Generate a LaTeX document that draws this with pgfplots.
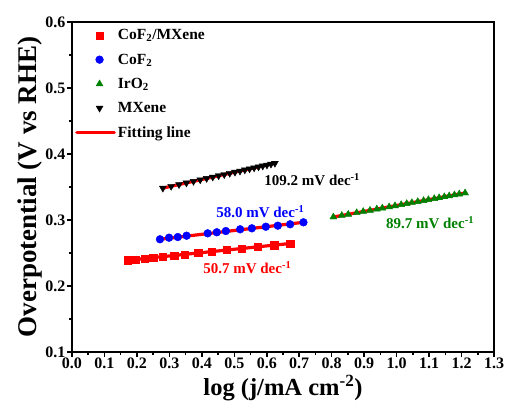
\documentclass[border=0pt]{standalone}
\usepackage{fontspec}
\setmainfont{Liberation Serif}
\usepackage{pgfplots}
\pgfplotsset{compat=1.18}

\definecolor{cred}{RGB}{255,0,0}
\definecolor{cblue}{RGB}{0,0,255}
\definecolor{cgreen}{RGB}{0,128,0}

\pgfplotsset{fitlegend/.style={legend image code/.code={\draw[##1] (-0.5cm,0cm) -- (0.82cm,0cm);}}}

\begin{document}
\begin{tikzpicture}
\begin{axis}[
    scale only axis,
    width=422pt, height=330pt,
    xmin=0, xmax=1.3, ymin=0.1, ymax=0.6,
    xtick={0,0.1,...,1.3}, ytick={0.1,0.2,...,0.6},
    minor tick num=1,
    xtick pos=bottom, ytick pos=left,
    tick align=outside,
    major tick length=5pt, minor tick length=3pt,
    axis line style={line width=1.8pt},
    every tick/.style={line width=1.5pt, black},
    /pgf/number format/assume math mode=true,
    /pgf/number format/.cd, fixed, fixed zerofill, precision=1, /pgfplots/.cd,
    tick label style={font=\bfseries\fontsize{16}{16}\selectfont},
    xticklabel style={inner sep=1pt},
    yticklabel style={inner sep=1.5pt},
    xlabel={log (j/mA cm\textsuperscript{-2})},
    ylabel={Overpotential (V vs RHE)},
    xlabel style={font=\bfseries\fontsize{24.5}{24.5}\selectfont, at={(axis description cs:0.5,-0.11)}, anchor=center},
    ylabel style={font=\bfseries\fontsize{27}{27}\selectfont, at={(axis description cs:-0.1,0.5)}, anchor=center},
    legend style={draw=none, fill=none, at={(axis description cs:0.0,0.99)}, anchor=north west,
        font=\bfseries\fontsize{15.5}{15.5}\selectfont, row sep=8.5pt},
    legend cell align=left,
    clip=false,
]
% CoF2/MXene
\addplot[only marks, mark=square*, mark size=3.6pt, color=cred] coordinates {
(0.172,0.2390) (0.196,0.2402) (0.223,0.2416) (0.250,0.2430) (0.279,0.2444)
(0.315,0.2463) (0.348,0.2479) (0.389,0.2500) (0.430,0.2521) (0.477,0.2545)
(0.523,0.2568) (0.572,0.2593) (0.623,0.2619) (0.672,0.2644)};
\addlegendentry{CoF\textsubscript{2}/MXene}
% CoF2
\addplot[only marks, mark=*, mark size=3.9pt, color=cblue] coordinates {
(0.271,0.2708) (0.299,0.2732) (0.326,0.2742) (0.353,0.2762) (0.418,0.2798)
(0.446,0.2814) (0.474,0.2833) (0.518,0.2859) (0.554,0.2874) (0.597,0.2898)
(0.634,0.2914) (0.672,0.2935) (0.713,0.2965)};
\addlegendentry{CoF\textsubscript{2}}
% IrO2
\addplot[only marks, mark=triangle*, mark size=4pt, color=cgreen] coordinates {
(0.805,0.3045) (0.831,0.3068) (0.851,0.3086) (0.877,0.3110) (0.897,0.3128)
(0.918,0.3146) (0.939,0.3165) (0.956,0.3180) (0.977,0.3199) (0.995,0.3215)
(1.014,0.3232) (1.031,0.3248) (1.047,0.3262) (1.065,0.3278) (1.083,0.3294)
(1.098,0.3308) (1.116,0.3324) (1.131,0.3337) (1.147,0.3352) (1.162,0.3365)
(1.178,0.3380) (1.193,0.3393) (1.211,0.3409)};
\addlegendentry{IrO\textsubscript{2}}
% MXene
\addplot[only marks, mark=triangle*, mark size=4pt, mark options={rotate=180}, color=black] coordinates {
(0.2799,0.3483) (0.3055,0.3511) (0.3297,0.3537) (0.3525,0.3562) (0.3743,0.3586)
(0.3950,0.3609) (0.4148,0.3630) (0.4337,0.3651) (0.4518,0.3671) (0.4691,0.3689)
(0.4859,0.3708) (0.5020,0.3725) (0.5175,0.3742) (0.5325,0.3759) (0.5470,0.3775)
(0.5610,0.3790) (0.5746,0.3805) (0.5877,0.3819) (0.6005,0.3833) (0.6129,0.3847)
(0.6250,0.3860)};
\addlegendentry{MXene}
% fitting lines
\addplot[cred, line width=3.2pt, line cap=round, no marks, fitlegend]
    coordinates {(0.172,0.2390) (0.672,0.2644)};
\addlegendentry{Fitting line}
\addplot[cred, line width=3.2pt, no marks, forget plot] coordinates {(0.271,0.2708) (0.713,0.2965)};
\addplot[cred, line width=3.2pt, no marks, forget plot] coordinates {(0.805,0.3045) (1.211,0.3409)};
\addplot[cred, line width=3.2pt, no marks, forget plot] coordinates {(0.2799,0.3483) (0.6250,0.3860)};

\node[font=\bfseries\fontsize{15}{15}\selectfont, black] at (axis cs:0.740,0.361) {109.2 mV dec\textsuperscript{-1}};
\node[font=\bfseries\fontsize{15}{15}\selectfont, cblue] at (axis cs:0.580,0.313) {58.0 mV dec\textsuperscript{-1}};
\node[font=\bfseries\fontsize{15}{15}\selectfont, cred] at (axis cs:0.540,0.228) {50.7 mV dec\textsuperscript{-1}};
\node[font=\bfseries\fontsize{15}{15}\selectfont, cgreen] at (axis cs:1.103,0.296) {89.7 mV dec\textsuperscript{-1}};

\coordinate (ll) at (rel axis cs:0,0);
\coordinate (ur) at (rel axis cs:1,1);
\end{axis}
\pgfresetboundingbox
\path ([shift={(-72pt,-62pt)}]ll) rectangle ([shift={(15pt,22pt)}]ur);
\end{tikzpicture}
\end{document}
